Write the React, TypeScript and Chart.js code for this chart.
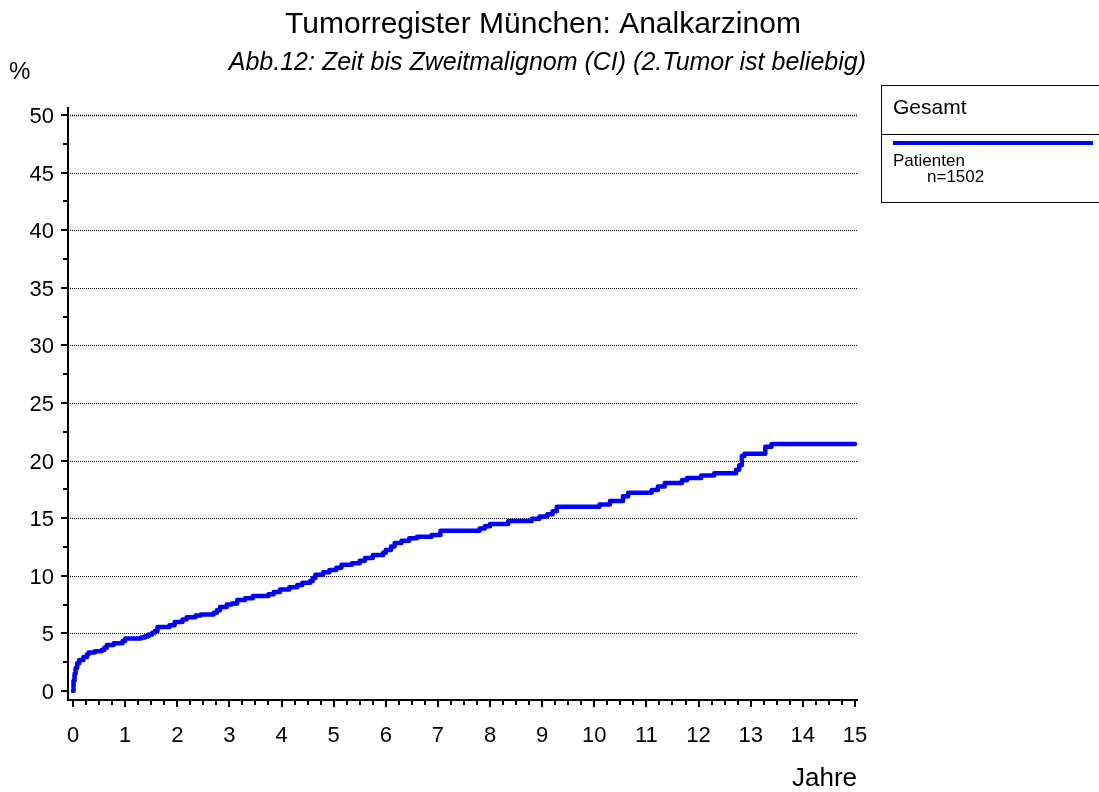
import React, { useEffect, useRef } from "react";
import { Chart, registerables } from "chart.js";

Chart.register(...registerables);

// Cumulative incidence (step curve): time in years and value in percent after each step
const years = [
  0, 0.01, 0.03, 0.05, 0.08, 0.12, 0.2, 0.27, 0.3, 0.42, 0.55, 0.6, 0.65, 0.78, 0.95,
  1.0, 1.3, 1.38, 1.45, 1.52, 1.57, 1.62, 1.85, 1.95, 2.1, 2.18, 2.35, 2.45, 2.7, 2.76,
  2.82, 2.95, 3.05, 3.15, 3.3, 3.45, 3.75, 3.85, 3.97, 4.15, 4.3, 4.4, 4.55, 4.6, 4.65,
  4.8, 4.92, 5.05, 5.15, 5.35, 5.5, 5.6, 5.75, 5.95, 6.0, 6.1, 6.17, 6.3, 6.45, 6.6,
  6.88, 7.05, 7.8, 7.9, 8.0, 8.35, 8.8, 8.95, 9.1, 9.2, 9.28, 10.1, 10.3, 10.55, 10.65,
  11.1, 11.22, 11.35, 11.68, 11.78, 12.05, 12.3, 12.72, 12.78, 12.83, 12.88, 13.28, 13.4, 15.0,
];
const percent = [
  0, 0.9, 1.5, 2.0, 2.4, 2.7, 2.95, 3.2, 3.35, 3.45, 3.55, 3.75, 4.0, 4.15, 4.35,
  4.55, 4.65, 4.75, 4.9, 5.05, 5.2, 5.55, 5.7, 6.0, 6.2, 6.4, 6.55, 6.65, 6.8, 7.0,
  7.3, 7.5, 7.6, 7.9, 8.05, 8.25, 8.4, 8.6, 8.8, 9.0, 9.2, 9.4, 9.55, 9.8, 10.1,
  10.3, 10.5, 10.7, 10.95, 11.1, 11.3, 11.55, 11.8, 12.0, 12.25, 12.55, 12.85, 13.05, 13.25, 13.4,
  13.55, 13.9, 14.1, 14.3, 14.5, 14.75, 14.95, 15.15, 15.35, 15.6, 16.0, 16.2, 16.5, 16.9, 17.2,
  17.45, 17.75, 18.05, 18.3, 18.5, 18.7, 18.9, 19.2, 19.6, 20.4, 20.6, 21.2, 21.45, 21.45,
];

const xTickLabels = ["0", "1", "2", "3", "4", "5", "6", "7", "8", "9", "10", "11", "12", "13", "14", "15"];
const yTickLabels = ["0", "5", "10", "15", "20", "25", "30", "35", "40", "45", "50"];

const titleText = "Tumorregister München: Analkarzinom";
const subtitleText = "Abb.12: Zeit bis Zweitmalignom (CI) (2.Tumor ist beliebig)";
const yAxisTitle = "%";
const xAxisTitle = "Jahre";
const legendHeader = "Gesamt";
const legendLabel1 = "Patienten";
const legendLabel2 = "n=1502";

const FONT = "'Liberation Sans', Arial, Helvetica, sans-serif";
const BLUE = "#0000ff";

const decorPlugin = {
  id: "decor",
  beforeDatasetsDraw(chart: any) {
    const { ctx, chartArea, scales } = chart;
    const y = scales.y;
    ctx.save();
    ctx.strokeStyle = "#000";
    ctx.setLineDash([1, 1]);
    yTickLabels.forEach((lbl) => {
      const v = Number(lbl);
      if (v === 0) return;
      const py = Math.round(y.getPixelForValue(v)) + 0.5;
      ctx.lineWidth = v === 50 ? 1.6 : 1;
      ctx.beginPath();
      ctx.moveTo(chartArea.left, py);
      ctx.lineTo(chartArea.right, py);
      ctx.stroke();
    });
    ctx.restore();
  },
  afterDatasetsDraw(chart: any) {
    const { ctx, chartArea, scales } = chart;
    const x = scales.x;
    const y = scales.y;
    ctx.save();
    ctx.setLineDash([]);
    ctx.strokeStyle = "#000";
    ctx.lineWidth = 2;
    // axis lines
    ctx.beginPath();
    ctx.moveTo(chartArea.left, chartArea.top);
    ctx.lineTo(chartArea.left, chartArea.bottom);
    ctx.lineTo(chartArea.right, chartArea.bottom);
    ctx.stroke();

    // y ticks
    const yMax = Number(yTickLabels[yTickLabels.length - 1]);
    for (let v = 0; v <= yMax + 0.001; v += 2.5) {
      const major = Math.abs(v % 5) < 0.001;
      const py = Math.round(y.getPixelForValue(v));
      ctx.beginPath();
      ctx.moveTo(chartArea.left - (major ? 7 : 5), py);
      ctx.lineTo(chartArea.left, py);
      ctx.stroke();
    }
    // x ticks
    const xMax = Number(xTickLabels[xTickLabels.length - 1]);
    for (let v = 0; v <= xMax + 0.001; v += 0.25) {
      const major = Math.abs(v - Math.round(v)) < 0.001;
      const px = Math.round(x.getPixelForValue(v));
      ctx.beginPath();
      ctx.moveTo(px, chartArea.bottom);
      ctx.lineTo(px, chartArea.bottom + (major ? 7 : 5));
      ctx.stroke();
    }

    ctx.fillStyle = "#000";
    ctx.font = `22px ${FONT}`;
    ctx.textAlign = "right";
    ctx.textBaseline = "alphabetic";
    yTickLabels.forEach((lbl) => {
      ctx.fillText(lbl, 54, Math.round(y.getPixelForValue(Number(lbl))) + 8);
    });
    ctx.textAlign = "center";
    xTickLabels.forEach((lbl) => {
      ctx.fillText(lbl, x.getPixelForValue(Number(lbl)), 742);
    });

    // axis titles
    ctx.font = `26px ${FONT}`;
    ctx.textAlign = "right";
    ctx.fillText(xAxisTitle, 857, 786);
    ctx.font = `24px ${FONT}`;
    ctx.textAlign = "left";
    ctx.fillText(yAxisTitle, 9, 79);

    // titles
    ctx.font = `30px ${FONT}`;
    ctx.textAlign = "center";
    ctx.fillText(titleText, 543, 33);
    ctx.font = `italic 25px ${FONT}`;
    ctx.textAlign = "right";
    ctx.fillText(subtitleText, 866, 70);

    // legend box
    ctx.lineWidth = 1;
    ctx.strokeRect(881.5, 85.5, 230, 117);
    ctx.beginPath();
    ctx.moveTo(881, 134.5);
    ctx.lineTo(1110, 134.5);
    ctx.stroke();
    ctx.font = `21px ${FONT}`;
    ctx.textAlign = "left";
    ctx.fillText(legendHeader, 893, 114);
    ctx.strokeStyle = BLUE;
    ctx.lineWidth = 4;
    ctx.beginPath();
    ctx.moveTo(893, 143);
    ctx.lineTo(1093, 143);
    ctx.stroke();
    ctx.font = `17px ${FONT}`;
    ctx.fillText(legendLabel1, 893, 166);
    ctx.fillText(legendLabel2, 927, 182);
    ctx.restore();
  },
};

export default function App() {
  const ref = useRef<HTMLCanvasElement | null>(null);
  useEffect(() => {
    if (!ref.current) return;
    const pxPerYear = 52.13;
    const pxPerPct = 11.52;
    const chart = new Chart(ref.current, {
      type: "line",
      data: {
        datasets: [
          {
            label: "Gesamt",
            data: years.map((t, i) => ({ x: t, y: percent[i] })),
            borderColor: BLUE,
            borderWidth: 4.5,
            pointRadius: 0,
            stepped: true,
            fill: false,
            borderCapStyle: "round",
            borderJoinStyle: "round",
          },
        ],
      },
      options: {
        responsive: false,
        animation: false,
        devicePixelRatio: 1,
        layout: { padding: { left: 68, right: 241, top: 107, bottom: 92 } },
        plugins: { legend: { display: false }, tooltip: { enabled: false }, title: { display: false } },
        scales: {
          x: { type: "linear", display: false, min: -5 / pxPerYear, max: -5 / pxPerYear + 790 / pxPerYear },
          y: { type: "linear", display: false, min: -9 / pxPerPct, max: -9 / pxPerPct + 593 / pxPerPct },
        },
      },
      plugins: [decorPlugin],
    });
    return () => chart.destroy();
  }, []);
  return (
    <div style={{ position: "absolute", left: 0, top: 0, width: 1099, height: 792, background: "#fff" }}>
      <canvas ref={ref} width={1099} height={792} style={{ display: "block" }} />
    </div>
  );
}
